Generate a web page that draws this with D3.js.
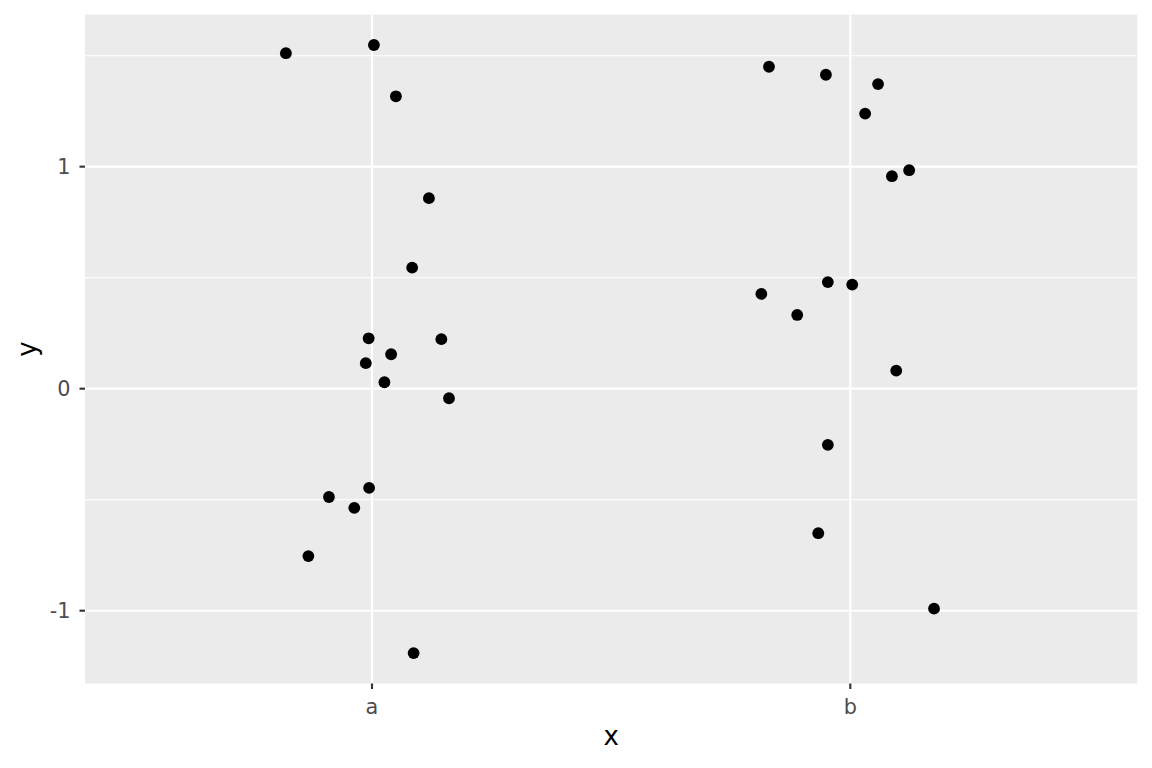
<!DOCTYPE html>
<html>
<head>
<meta charset="utf-8">
<script src="https://cdn.jsdelivr.net/npm/d3@7"></script>
<style>
  body { margin: 0; background: #fff; }
  text { font-family: "DejaVu Sans", sans-serif; }
</style>
</head>
<body>
<div id="chart"></div>
<script>
// categories and jittered points (x is numeric position around category index)
var categories = ["a", "b"];
var groupA = [
  [0.820, 1.511], [1.004, 1.548], [1.050, 1.317], [1.119, 0.858],
  [1.084, 0.545], [0.993, 0.227], [1.145, 0.223], [1.040, 0.155],
  [0.987, 0.115], [1.026, 0.029], [1.161, -0.043], [0.994, -0.447],
  [0.910, -0.488], [0.963, -0.537], [0.867, -0.754], [1.087, -1.191]
];
var groupB = [
  [1.830, 1.450], [1.949, 1.414], [2.058, 1.372], [2.031, 1.239],
  [2.087, 0.957], [2.123, 0.984], [1.814, 0.427], [1.889, 0.332],
  [1.953, 0.480], [2.004, 0.469], [2.096, 0.081], [1.953, -0.253],
  [1.933, -0.651], [2.175, -0.991]
];
var yTicks = [-1, 0, 1];
var yMinor = [-0.5, 0.5, 1.5];

var width = 1152, height = 768;
var margin = {top: 14.6, right: 14.7, bottom: 84.5, left: 85};

var points = groupA.concat(groupB);

var x = d3.scaleLinear()
    .domain([0.4, categories.length + 0.6])
    .range([margin.left, width - margin.right]);

var yExt = d3.extent(points, function(d) { return d[1]; });
var pad = (yExt[1] - yExt[0]) * 0.05;
var y = d3.scaleLinear()
    .domain([yExt[0] - pad, yExt[1] + pad])
    .range([height - margin.bottom, margin.top]);

var svg = d3.select("#chart").append("svg")
    .attr("width", width)
    .attr("height", height);

// panel background
svg.append("rect")
    .attr("x", x.range()[0])
    .attr("y", y.range()[1])
    .attr("width", x.range()[1] - x.range()[0])
    .attr("height", y.range()[0] - y.range()[1])
    .attr("fill", "#ebebeb");

// minor grid
svg.selectAll(".minor")
    .data(yMinor)
    .enter().append("line")
    .attr("x1", x.range()[0])
    .attr("x2", x.range()[1])
    .attr("y1", function(d) { return y(d); })
    .attr("y2", function(d) { return y(d); })
    .attr("stroke", "#fff")
    .attr("stroke-width", 1.07);

// major grid
svg.selectAll(".majorY")
    .data(yTicks)
    .enter().append("line")
    .attr("x1", x.range()[0])
    .attr("x2", x.range()[1])
    .attr("y1", function(d) { return y(d); })
    .attr("y2", function(d) { return y(d); })
    .attr("stroke", "#fff")
    .attr("stroke-width", 2.13);

svg.selectAll(".majorX")
    .data(categories)
    .enter().append("line")
    .attr("x1", function(d, i) { return x(i + 1); })
    .attr("x2", function(d, i) { return x(i + 1); })
    .attr("y1", y.range()[0])
    .attr("y2", y.range()[1])
    .attr("stroke", "#fff")
    .attr("stroke-width", 2.13);

// points
svg.selectAll(".pt")
    .data(points)
    .enter().append("circle")
    .attr("cx", function(d) { return x(d[0]); })
    .attr("cy", function(d) { return y(d[1]); })
    .attr("r", 5.9)
    .attr("fill", "#000");

// y axis ticks + labels
var yAxis = svg.append("g");
yAxis.selectAll("line")
    .data(yTicks)
    .enter().append("line")
    .attr("x1", margin.left - 5.5)
    .attr("x2", margin.left)
    .attr("y1", function(d) { return y(d); })
    .attr("y2", function(d) { return y(d); })
    .attr("stroke", "#333")
    .attr("stroke-width", 2.13);
yAxis.selectAll("text")
    .data(yTicks)
    .enter().append("text")
    .attr("x", 70.5)
    .attr("y", function(d) { return y(d); })
    .attr("dy", "0.36em")
    .attr("text-anchor", "end")
    .attr("font-size", 20.8)
    .attr("fill", "#4d4d4d")
    .text(function(d) { return String(d); });

// x axis ticks + labels
var xAxis = svg.append("g");
xAxis.selectAll("line")
    .data(categories)
    .enter().append("line")
    .attr("x1", function(d, i) { return x(i + 1); })
    .attr("x2", function(d, i) { return x(i + 1); })
    .attr("y1", y.range()[0])
    .attr("y2", y.range()[0] + 5.5)
    .attr("stroke", "#333")
    .attr("stroke-width", 2.13);
xAxis.selectAll("text")
    .data(categories)
    .enter().append("text")
    .attr("x", function(d, i) { return x(i + 1); })
    .attr("y", 714)
    .attr("text-anchor", "middle")
    .attr("font-size", 20.8)
    .attr("fill", "#4d4d4d")
    .text(function(d) { return d; });

// axis titles
svg.append("text")
    .attr("x", (x.range()[0] + x.range()[1]) / 2)
    .attr("y", 745)
    .attr("text-anchor", "middle")
    .attr("font-size", 26)
    .attr("fill", "#000")
    .text("x");

svg.append("text")
    .attr("transform", "translate(36," + ((y.range()[0] + y.range()[1]) / 2) + ") rotate(-90)")
    .attr("text-anchor", "middle")
    .attr("font-size", 26)
    .attr("fill", "#000")
    .text("y");
</script>
</body>
</html>
